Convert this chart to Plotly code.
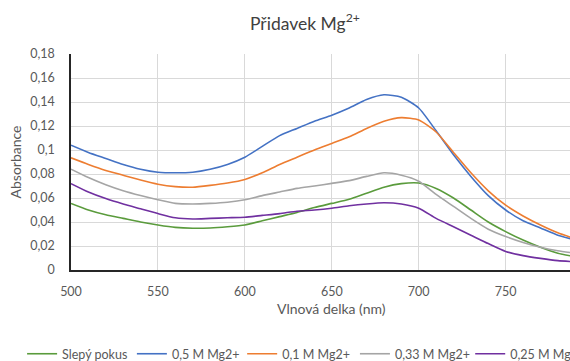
import plotly.graph_objects as go

# Wavelength grid (nm)
wavelength = [500, 510, 520, 530, 540, 550, 560, 570, 580, 590,
              600, 610, 620, 630, 640, 650, 660, 670, 680, 690,
              700, 710, 720, 730, 740, 750, 760, 770, 780, 790]

# Absorbance spectra
slepy_pokus = [0.0555, 0.050, 0.046, 0.043, 0.040, 0.0375, 0.0355, 0.0348, 0.035, 0.036,
               0.0375, 0.041, 0.0445, 0.048, 0.052, 0.0555, 0.059, 0.064, 0.069, 0.072,
               0.0725, 0.068, 0.060, 0.050, 0.040, 0.032, 0.025, 0.019, 0.014, 0.011]
mg_05 = [0.104, 0.098, 0.093, 0.088, 0.084, 0.0815, 0.081, 0.0815, 0.084, 0.088,
         0.094, 0.103, 0.112, 0.118, 0.124, 0.129, 0.135, 0.142, 0.146, 0.144,
         0.135, 0.116, 0.096, 0.078, 0.062, 0.050, 0.041, 0.035, 0.029, 0.025]
mg_01 = [0.0935, 0.088, 0.083, 0.079, 0.075, 0.0715, 0.0695, 0.069, 0.0705, 0.0725,
         0.0755, 0.081, 0.088, 0.094, 0.100, 0.1055, 0.111, 0.118, 0.124, 0.127,
         0.125, 0.115, 0.098, 0.081, 0.066, 0.054, 0.045, 0.0375, 0.031, 0.026]
mg_033 = [0.084, 0.077, 0.071, 0.066, 0.062, 0.0585, 0.0555, 0.055, 0.0555, 0.0565,
          0.0585, 0.062, 0.065, 0.068, 0.070, 0.0722, 0.0745, 0.078, 0.081, 0.079,
          0.074, 0.063, 0.053, 0.043, 0.034, 0.028, 0.023, 0.019, 0.016, 0.014]
mg_025 = [0.072, 0.065, 0.0595, 0.055, 0.051, 0.047, 0.0435, 0.0425, 0.043, 0.0435,
          0.044, 0.0455, 0.047, 0.049, 0.050, 0.0515, 0.0535, 0.055, 0.056, 0.055,
          0.0515, 0.043, 0.036, 0.029, 0.022, 0.0155, 0.012, 0.0097, 0.0078, 0.0068]

series_names = ["Slepý pokus", "0,5 M Mg2+", "0,1 M Mg2+", "0,33 M Mg2+", "0,25 M Mg2+"]
series_values = [slepy_pokus, mg_05, mg_01, mg_033, mg_025]
series_colors = ["#5A9B3C", "#4472C4", "#ED7D31", "#A5A5A5", "#7030A0"]

y_tickvals = [0, 0.02, 0.04, 0.06, 0.08, 0.1, 0.12, 0.14, 0.16, 0.18]
y_ticktext = ["0", "0,02", "0,04", "0,06", "0,08", "0,1", "0,12", "0,14", "0,16", "0,18"]
x_tickvals = [500, 550, 600, 650, 700, 750]

FONT = "Lato"
TEXT_COLOR = "#595959"

# one legend box per series so each entry sits at its own horizontal slot
legend_ids = ["legend", "legend2", "legend3", "legend4", "legend5"]
legend_x = [-0.098, 0.122, 0.343, 0.569, 0.800]
LEGEND_Y = -0.32

fig = go.Figure()
for name, vals, col, lid in zip(series_names, series_values, series_colors, legend_ids):
    fig.add_trace(go.Scatter(
        x=wavelength, y=vals, name=name, mode="lines", legend=lid,
        line=dict(color=col, width=1.6, shape="spline", smoothing=0.6),
    ))

legend_layout = {}
for lid, lx in zip(legend_ids, legend_x):
    legend_layout[lid] = dict(
        orientation="h", x=lx, xanchor="left", y=LEGEND_Y, yanchor="top",
        font=dict(family=FONT, size=12.5, color=TEXT_COLOR),
        itemwidth=30, bgcolor="rgba(0,0,0,0)",
    )

fig.update_layout(
    width=570, height=361,
    margin=dict(l=71, r=0, t=54, b=91, autoexpand=False),
    paper_bgcolor="white", plot_bgcolor="white",
    font=dict(family=FONT, size=12.5, color=TEXT_COLOR),
    title=dict(text="Přidavek Mg<sup>2+</sup>", x=0.535, xanchor="center",
               y=0.935, yanchor="middle",
               font=dict(family=FONT, size=17.5, color="#404040")),
    xaxis=dict(
        range=[500, 787], tickvals=x_tickvals,
        showgrid=True, gridcolor="#D9D9D9", gridwidth=1,
        showline=True, linecolor="#262626", linewidth=1.5,
        ticks="", zeroline=False, ticklabelstandoff=9,
    ),
    yaxis=dict(
        range=[0, 0.18], tickvals=y_tickvals, ticktext=y_ticktext,
        showgrid=True, gridcolor="#D9D9D9", gridwidth=1,
        showline=True, linecolor="#262626", linewidth=1.5,
        ticks="", zeroline=False, ticklabelstandoff=12,
        title=dict(text="Absorbance", standoff=5,
                   font=dict(family=FONT, size=14, color=TEXT_COLOR)),
    ),
    annotations=[dict(
        text="Vlnová delka (nm)", xref="paper", yref="paper",
        x=0.523, y=-0.176, xanchor="center", yanchor="middle",
        showarrow=False, font=dict(family=FONT, size=14, color=TEXT_COLOR),
    )],
    showlegend=True,
    **legend_layout,
)

fig.write_html("out.html")
